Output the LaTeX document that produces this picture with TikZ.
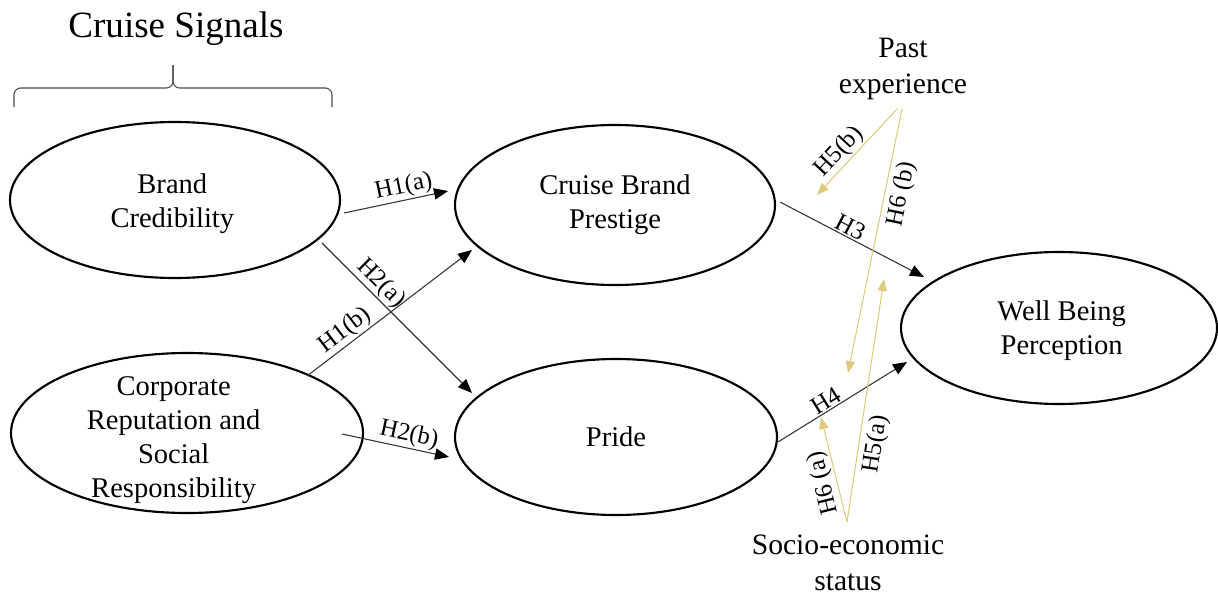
\documentclass[tikz,border=0pt]{standalone}
\usepackage{fontspec}
\setmainfont{Liberation Serif}
\usetikzlibrary{shapes.geometric,arrows.meta,calc}
\definecolor{gold}{RGB}{223,203,125}
\begin{document}
\begin{tikzpicture}[x=0.75pt,y=-0.75pt,
  ell/.style={ellipse,draw=black,line width=1.6pt,inner sep=0pt},
  elltext/.style={font=\fontsize{21.4}{25.5}\selectfont,align=center,inner sep=0pt},
  titletext/.style={font=\fontsize{27.8}{32}\selectfont,inner sep=0pt},
  side/.style={font=\fontsize{22.2}{27}\selectfont,align=center,inner sep=0pt},
  arr/.style={draw=black!80,line width=0.8pt,-{Triangle[length=10.5pt,width=8.5pt,color=black]}},
  garr/.style={draw=gold,line width=0.8pt,-{Triangle[length=9pt,width=7pt]}},
  lab/.style={font=\fontsize{18.6}{20}\selectfont,inner sep=1pt},
  bracestyle/.style={draw=black!70,line width=0.8pt,rounded corners=5pt},
]
\useasboundingbox (0,0) rectangle (1218,596);

% title and brace
\node[titletext] (title) at (176,29) {Cruise Signals};
\draw[bracestyle] (14,107) |- (173,88) -- (173,65);
\draw[bracestyle] (332,107) |- (173,88) -- (173,65);

% constructs
\node[ell,minimum width=247.5pt,minimum height=117pt,
  label={[elltext,xshift=-2pt,yshift=-3pt]center:Brand\\Credibility}] (bc) at (175,200) {};
\node[ell,minimum width=264pt,minimum height=120pt,
  label={[elltext,xshift=-10pt,yshift=-5pt]center:Corporate\\Reputation and\\Social\\Responsibility}] (crsr) at (187,433) {};
\node[ell,minimum width=240pt,minimum height=120pt,
  label={[elltext]center:Cruise Brand\\Prestige}] (cbp) at (615,205) {};
\node[ell,minimum width=241.5pt,minimum height=117pt,
  label={[elltext]center:Pride}] (pride) at (616,437) {};
\node[ell,minimum width=237pt,minimum height=114pt,
  label={[elltext,xshift=2pt,yshift=-2pt]center:Well Being\\Perception}] (wbp) at (1059,328) {};

\node[side] (pe) at (903,69) {Past\\experience};
\node[side] (ses) at (848,563) {Socio-economic\\status};

% free ends of moderating arrows
\coordinate (h5bend) at (817,195);
\coordinate (h6bend) at (848,373);
\coordinate (h6aend) at (821,417);
\coordinate (h5aend) at (884,279);

% direct paths
\draw[arr] ($(bc)+(169,13)$) -- node[lab,pos=0.6,sloped,above]{H1(a)} ($(cbp)+(-167,-14)$);
\draw[arr] ($(bc)+(147,43)$) -- node[lab,pos=0.33,sloped,above]{H2(a)} ($(pride)+(-144,-44)$);
\draw[arr] ($(crsr)+(120,-57)$) -- node[lab,pos=0.28,sloped,above]{H1(b)} ($(cbp)+(-143,45)$);
\draw[arr] ($(crsr)+(155,1)$) -- node[lab,pos=0.6,sloped,above]{H2(b)} ($(pride)+(-167,20)$);
\draw[arr] ($(cbp)+(165,-3)$) -- node[lab,pos=0.46,sloped,above]{H3} ($(wbp)+(-135,-51)$);
\draw[arr] ($(pride)+(162,5)$) -- node[lab,pos=0.41,sloped,above]{H4} ($(wbp)+(-152,34)$);

% moderators
\draw[garr] ($(pe)+(-6,40)$) -- node[lab,pos=0.6,sloped,above]{H5(b)} (h5bend);
\draw[garr] ($(pe)+(-1,40)$) -- node[lab,pos=0.31,sloped,below=3pt]{H6 (b)} (h6bend);
\draw[garr] ($(ses)+(-1,-41)$) -- node[lab,pos=0.4,rotate=104,anchor=south]{H6 (a)} (h6aend);
\draw[garr] ($(ses)+(-1,-41)$) -- node[lab,pos=0.33,sloped,below=3pt]{H5(a)} (h5aend);
\end{tikzpicture}
\end{document}
